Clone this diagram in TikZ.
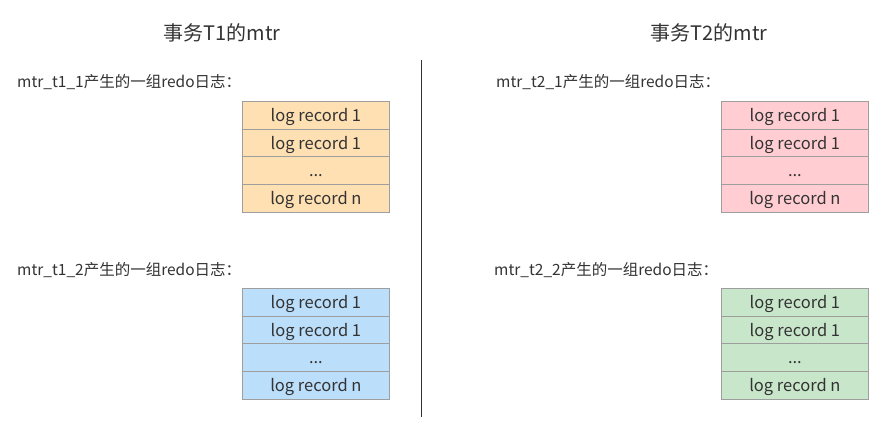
\documentclass[tikz,border=0pt]{standalone}
\usepackage{fontspec}
\setmainfont{Noto Sans CJK SC}
\definecolor{txt}{HTML}{333333}
\definecolor{bord}{HTML}{9E9E9E}
\definecolor{cOrange}{HTML}{FFE0B2}
\definecolor{cBlue}{HTML}{BBDEFB}
\definecolor{cPink}{HTML}{FFCDD2}
\definecolor{cGreen}{HTML}{C8E6C9}
\tikzset{
  rec/.style={draw=bord, line width=0.8pt, minimum width=147pt, minimum height=27.75pt, inner sep=0pt, text height=12pt, text depth=0pt, anchor=north west, text=txt, font=\fontsize{16.5}{18}\selectfont},
  ttl/.style={text=txt, font=\fontsize{20}{22}\selectfont, inner sep=0pt},
  lbl/.style={text=txt, font=\fontsize{15.5}{17}\selectfont, inner sep=0pt, anchor=west},
}
\begin{document}
\begin{tikzpicture}[x=1pt,y=-1pt]
\useasboundingbox[fill=white] (0,0) rectangle (883,427);
\node[ttl] (t1) at (222,33) {事务T1的mtr};
\node[ttl] (t2) at (709,33) {事务T2的mtr};
\coordinate (dtop) at (421,60);
\coordinate (dbot) at (421,417);
\draw[line width=1pt, black!80] (dtop) -- (dbot);
\node[lbl] (l11) at (17,82) {mtr\_t1\_1产生的一组redo日志：};
\node[lbl] (l12) at (17,270) {mtr\_t1\_2产生的一组redo日志：};
\node[lbl] (l21) at (496,82) {mtr\_t2\_1产生的一组redo日志：};
\node[lbl] (l22) at (494,270) {mtr\_t2\_2产生的一组redo日志：};
% boxes
\foreach \nm/\xx/\yy/\col in {a/242/101/cOrange, b/242/288/cBlue, c/721/101/cPink, d/721/288/cGreen}{
  \node[rec, fill=\col] (\nm1) at (\xx,\yy) {log record 1};
  \node[rec, fill=\col] (\nm2) at (\xx,\yy+27.75) {log record 1};
  \node[rec, fill=\col] (\nm3) at (\xx,\yy+55.5) {...};
  \node[rec, fill=\col] (\nm4) at (\xx,\yy+83.25) {log record n};
}
\end{tikzpicture}
\end{document}
